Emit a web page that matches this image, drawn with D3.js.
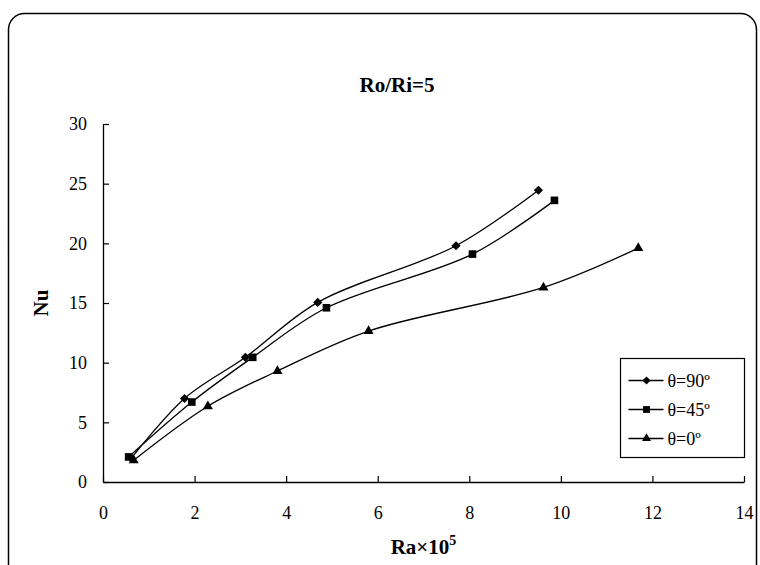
<!DOCTYPE html>
<html>
<head>
<meta charset="utf-8">
<script src="https://cdn.jsdelivr.net/npm/d3@7"></script>
<style>
    body { margin: 0; background: #fff; }
    .tick-label { font-size: 18px; fill: #000; }
    .axis-title { font-size: 21px; font-weight: bold; fill: #000; }
    .legend-label { font-size: 18px; fill: #000; }
</style>
</head>
<body>
<div id="chart-area"></div>
<script>
// Ra x 10^5 and Nu
var ra90 = [0.62, 1.78, 3.11, 4.69, 7.71, 9.51];
var nu90 = [2.0, 7.0, 10.45, 15.05, 19.8, 24.45];

var ra45 = [0.56, 1.94, 3.27, 4.88, 8.07, 9.86];
var nu45 = [2.1, 6.7, 10.45, 14.6, 19.1, 23.6];

var ra0 = [0.67, 2.29, 3.81, 5.80, 9.62, 11.69];
var nu0 = [1.82, 6.35, 9.3, 12.65, 16.3, 19.6];

var seriesNames = ["\u03b8=90\u00ba", "\u03b8=45\u00ba", "\u03b8=0\u00ba"];
var xTicks = [0, 2, 4, 6, 8, 10, 12, 14];
var yTicks = [0, 5, 10, 15, 20, 25, 30];

var SERIF = "Liberation Serif";

NuChart = function(_parentElement) {
    this.parentElement = _parentElement;
    this.initVis();
};

NuChart.prototype.initVis = function() {
    var vis = this;

    vis.margin = { top: 124, right: 16, bottom: 83, left: 103 };
    vis.width = 760 - vis.margin.left - vis.margin.right;
    vis.height = 565 - vis.margin.top - vis.margin.bottom;

    vis.root = d3.select("#" + vis.parentElement).append("svg")
        .attr("width", 760)
        .attr("height", 565)
        .attr("font-family", SERIF);

    // rounded outer frame (bottom runs off the picture)
    vis.root.append("rect")
        .attr("x", 8.5).attr("y", 13.5)
        .attr("width", 748).attr("height", 620)
        .attr("rx", 16).attr("ry", 16)
        .attr("fill", "none")
        .attr("stroke", "#000")
        .attr("stroke-width", 1.5);

    vis.root.append("text")
        .attr("class", "axis-title")
        .attr("x", 397).attr("y", 92)
        .attr("text-anchor", "middle")
        .text("Ro/Ri=5");

    vis.svg = vis.root.append("g")
        .attr("transform", "translate(" + vis.margin.left + "," + vis.margin.top + ")");

    vis.x = d3.scaleLinear().domain([0, 14]).range([0, vis.width]);
    vis.y = d3.scaleLinear().domain([0, 30]).range([vis.height, 0]);

    // diamonds are squares turned by 45 degrees
    vis.series = [
        { name: seriesNames[0], symbol: d3.symbolSquare, size: 42, rot: 45, pts: d3.zip(ra90, nu90) },
        { name: seriesNames[1], symbol: d3.symbolSquare, size: 58, rot: 0, pts: d3.zip(ra45, nu45) },
        { name: seriesNames[2], symbol: d3.symbolTriangle, size: 44, rot: 0, pts: d3.zip(ra0, nu0) }
    ];

    vis.drawAxes();
    vis.updateVis();
    vis.drawLegend();

    vis.root.selectAll("text").style("font-family", SERIF);
};

NuChart.prototype.drawAxes = function() {
    var vis = this;

    // ticks point inward, like the original
    var xAxis = d3.axisBottom(vis.x).tickValues(xTicks).tickSizeInner(-6).tickSizeOuter(0).tickPadding(24);
    var yAxis = d3.axisLeft(vis.y).tickValues(yTicks).tickSizeInner(-6).tickSizeOuter(0).tickPadding(16);

    var gx = vis.svg.append("g")
        .attr("transform", "translate(0," + vis.height + ")")
        .call(xAxis);
    var gy = vis.svg.append("g").call(yAxis);

    [gx, gy].forEach(function(g) {
        g.attr("font-family", SERIF).attr("font-size", null);
        g.select(".domain").attr("stroke", "#000").attr("stroke-width", 1.3);
        g.selectAll(".tick line").attr("stroke", "#000").attr("stroke-width", 1.2);
        g.selectAll(".tick text").attr("class", "tick-label");
    });

    var xt = vis.svg.append("text")
        .attr("class", "axis-title")
        .attr("x", vis.width / 2)
        .attr("y", vis.height + 72)
        .attr("text-anchor", "middle");
    xt.append("tspan").text("Ra\u00d710");
    xt.append("tspan").attr("dy", -9).style("font-size", "14px").text("5");

    vis.svg.append("text")
        .attr("class", "axis-title")
        .attr("transform", "translate(-62," + vis.y(15) + ") rotate(-90)")
        .attr("text-anchor", "middle")
        .attr("dy", "0.35em")
        .text("Nu");
};

NuChart.prototype.updateVis = function() {
    var vis = this;

    var line = d3.line()
        .x(function(d) { return vis.x(d[0]); })
        .y(function(d) { return vis.y(d[1]); })
        .curve(d3.curveCatmullRom.alpha(0.5));

    var groups = vis.svg.selectAll(".series")
        .data(vis.series)
        .enter()
        .append("g")
        .attr("class", "series");

    groups.append("path")
        .attr("d", function(d) { return line(d.pts); })
        .attr("fill", "none")
        .attr("stroke", "#000")
        .attr("stroke-width", 1.3);

    groups.each(function(s) {
        d3.select(this).selectAll("path.marker")
            .data(s.pts)
            .enter()
            .append("path")
            .attr("class", "marker")
            .attr("transform", function(d) {
                return "translate(" + vis.x(d[0]) + "," + vis.y(d[1]) + ") rotate(" + s.rot + ")";
            })
            .attr("d", d3.symbol().type(s.symbol).size(s.size))
            .attr("fill", "#000");
    });
};

NuChart.prototype.drawLegend = function() {
    var vis = this;

    var lg = vis.root.append("g").attr("transform", "translate(620.5,358.5)");

    lg.append("rect")
        .attr("width", 124).attr("height", 99)
        .attr("fill", "#fff")
        .attr("stroke", "#000")
        .attr("stroke-width", 1.2);

    var rows = lg.selectAll(".legend-row")
        .data(vis.series)
        .enter()
        .append("g")
        .attr("class", "legend-row")
        .attr("transform", function(d, i) { return "translate(0," + (22 + i * 29) + ")"; });

    rows.append("line")
        .attr("x1", 8).attr("x2", 43)
        .attr("stroke", "#000").attr("stroke-width", 1.3);

    rows.append("path")
        .attr("transform", function(d) { return "translate(26,0) rotate(" + d.rot + ")"; })
        .attr("d", function(d) { return d3.symbol().type(d.symbol).size(d.size * 0.8)(); })
        .attr("fill", "#000");

    rows.append("text")
        .attr("class", "legend-label")
        .attr("x", 47)
        .attr("dy", "0.35em")
        .text(function(d) { return d.name; });
};

new NuChart("chart-area");
</script>
</body>
</html>
